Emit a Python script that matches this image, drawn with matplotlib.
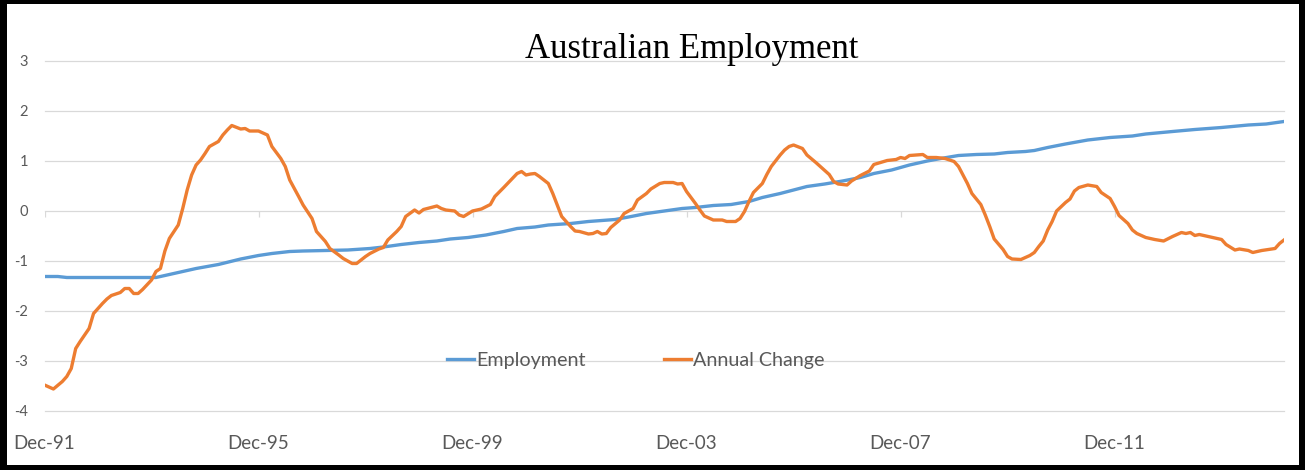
import numpy as np
import matplotlib.pyplot as plt
from matplotlib.patches import Rectangle

# months counted from Dec-91
emp_months = [0, 3, 5, 25, 29, 34, 39, 44, 48, 51, 55, 58, 63, 68, 73, 76, 80, 84,
              88, 91, 95, 99, 103, 106, 110, 113, 118, 122, 128, 131, 135, 139, 143,
              146, 150, 154, 158, 161, 165, 168, 171, 175, 179, 183, 186, 190, 194,
              198, 201, 205, 209, 213, 216, 220, 222, 225, 229, 234, 239, 244, 247,
              253, 258, 264, 270, 274, 278]
employment = [-1.31, -1.31, -1.33, -1.33, -1.25, -1.15, -1.07, -0.96, -0.89, -0.85,
              -0.81, -0.80, -0.79, -0.78, -0.75, -0.72, -0.67, -0.63, -0.60, -0.56,
              -0.53, -0.48, -0.41, -0.35, -0.32, -0.28, -0.25, -0.21, -0.17, -0.12,
              -0.05, 0.00, 0.05, 0.07, 0.11, 0.13, 0.19, 0.27, 0.35, 0.42, 0.49, 0.54,
              0.60, 0.67, 0.75, 0.82, 0.92, 1.00, 1.05, 1.11, 1.13, 1.14, 1.17, 1.19,
              1.21, 1.27, 1.34, 1.42, 1.47, 1.50, 1.54, 1.59, 1.63, 1.67, 1.72, 1.74,
              1.79]

chg_months = [0, 2, 4, 5, 6, 7, 8, 10, 11, 13, 14, 15, 17, 18, 19, 20, 21, 22, 24,
              25, 26, 27, 28, 30, 31, 32, 33, 34, 35, 36, 37, 39, 40, 41, 42, 44, 45,
              46, 48, 50, 51, 53, 54, 55, 57, 58, 60, 61, 63, 64, 66, 67, 69, 70, 72,
              73, 75, 76, 77, 79, 80, 81, 83, 84, 85, 88, 89, 90, 92, 93, 94, 96, 98,
              100, 101, 103, 106, 107, 108, 109, 110, 111, 113, 114, 115, 116, 118,
              119, 120, 122, 123, 124, 125, 126, 127, 129, 130, 132, 133, 135, 136,
              138, 139, 141, 142, 143, 144, 146, 147, 148, 150, 152, 153, 155, 156,
              157, 158, 159, 161, 162, 163, 165, 166, 167, 168, 170, 171, 173, 174,
              176, 177, 178, 180, 181, 183, 185, 186, 189, 191, 192, 193, 194, 197,
              198, 200, 202, 204, 205, 206, 207, 208, 210, 211, 212, 213, 215, 216,
              217, 219, 220, 221, 222, 223, 224, 225, 226, 227, 229, 230, 231, 232,
              234, 236, 237, 239, 240, 241, 243, 244, 245, 247, 249, 251, 253, 254,
              255, 256, 257, 258, 259, 261, 264, 265, 267, 268, 270, 271, 273, 276,
              277, 278]
annual_change = [-3.48, -3.56, -3.41, -3.31, -3.15, -2.75, -2.61, -2.35, -2.05, -1.85,
                 -1.76, -1.69, -1.63, -1.55, -1.55, -1.65, -1.65, -1.57, -1.38, -1.21,
                 -1.15, -0.80, -0.55, -0.28, 0.05, 0.42, 0.72, 0.92, 1.02, 1.15, 1.29,
                 1.39, 1.52, 1.62, 1.71, 1.64, 1.65, 1.60, 1.60, 1.52, 1.29, 1.05, 0.89,
                 0.62, 0.29, 0.12, -0.15, -0.41, -0.61, -0.75, -0.88, -0.95, -1.05,
                 -1.05, -0.91, -0.85, -0.76, -0.73, -0.58, -0.41, -0.31, -0.11, 0.02,
                 -0.04, 0.03, 0.10, 0.05, 0.02, 0.00, -0.08, -0.11, 0.00, 0.04, 0.13,
                 0.29, 0.47, 0.75, 0.79, 0.72, 0.74, 0.75, 0.69, 0.55, 0.35, 0.12,
                 -0.11, -0.31, -0.40, -0.41, -0.46, -0.45, -0.41, -0.46, -0.45, -0.33,
                 -0.18, -0.05, 0.05, 0.22, 0.35, 0.44, 0.55, 0.57, 0.57, 0.54, 0.55,
                 0.39, 0.15, 0.02, -0.10, -0.18, -0.18, -0.21, -0.21, -0.15, -0.01,
                 0.19, 0.37, 0.55, 0.73, 0.89, 1.12, 1.22, 1.29, 1.32, 1.25, 1.12, 0.97,
                 0.89, 0.73, 0.59, 0.54, 0.52, 0.60, 0.71, 0.80, 0.93, 1.01, 1.03, 1.07,
                 1.05, 1.11, 1.13, 1.07, 1.07, 1.05, 0.99, 0.89, 0.72, 0.55, 0.35, 0.13,
                 -0.08, -0.31, -0.56, -0.77, -0.91, -0.96, -0.97, -0.93, -0.89, -0.83,
                 -0.71, -0.60, -0.38, -0.21, 0.00, 0.17, 0.24, 0.40, 0.47, 0.52, 0.49,
                 0.37, 0.25, 0.09, -0.09, -0.25, -0.38, -0.45, -0.53, -0.57, -0.60,
                 -0.51, -0.47, -0.43, -0.45, -0.43, -0.49, -0.47, -0.51, -0.57, -0.67,
                 -0.78, -0.76, -0.79, -0.83, -0.79, -0.75, -0.65, -0.58]

tick_months = [0, 48, 96, 144, 192, 240]
tick_labels = ['Dec-91', 'Dec-95', 'Dec-99', 'Dec-03', 'Dec-07', 'Dec-11']
y_ticks = [-4, -3, -2, -1, 0, 1, 2, 3]

plt.rcParams['font.family'] = ['Lato', 'DejaVu Sans']

fig = plt.figure(figsize=(13.05, 4.70), dpi=100, facecolor='black')
# white card inside the black frame
fig.patches.append(Rectangle((7/1305, 5/470), 1292/1305, 461/470,
                             transform=fig.transFigure, facecolor='white',
                             edgecolor='none', zorder=0))

ax = fig.add_axes([44.5/1305, 59/470, 1239.5/1305, 350/470])
ax.set_facecolor('none')
ax.set_zorder(2)  # keep the axes above the white card

ax.plot(emp_months, employment, color='#5B9BD5', lw=2.4,
        solid_joinstyle='round', label='Employment', zorder=3)
ax.plot(chg_months, annual_change, color='#ED7D31', lw=2.4,
        solid_joinstyle='round', label='Annual Change', zorder=4)

ax.set_xlim(0, 278)
ax.set_ylim(-4, 3)
ax.set_yticks(y_ticks)
ax.set_yticklabels([str(v) for v in y_ticks], fontsize=10.5, color='#595959')
ax.set_xticks(tick_months)
ax.set_xticklabels(tick_labels, fontsize=13.5, color='#595959')
ax.tick_params(axis='x', length=0, pad=17)
ax.tick_params(axis='y', length=0, pad=12)
ax.grid(axis='y', color='#D9D9D9', lw=0.9)
ax.set_axisbelow(True)
for gl in ax.get_ygridlines():
    gl.set_clip_on(False)  # so the -4 and 3 lines at the edges show fully
for s in ax.spines.values():
    s.set_visible(False)

# small tick marks hanging off the zero line
ax.vlines(tick_months, -0.12, 0, color='#D9D9D9', lw=0.9, zorder=1)

leg = ax.legend(loc='center', bbox_to_anchor=(0.477, 0.145), ncol=2,
                frameon=False, fontsize=14.2, handlelength=1.35,
                handletextpad=0.1, columnspacing=4.0, labelcolor='#595959')

fig.text(692/1305, 1 - 58/470, 'Australian Employment', ha='center', va='baseline',
         fontsize=25, family='Liberation Serif', color='black', zorder=3)

fig.savefig('out.png', dpi=100)
